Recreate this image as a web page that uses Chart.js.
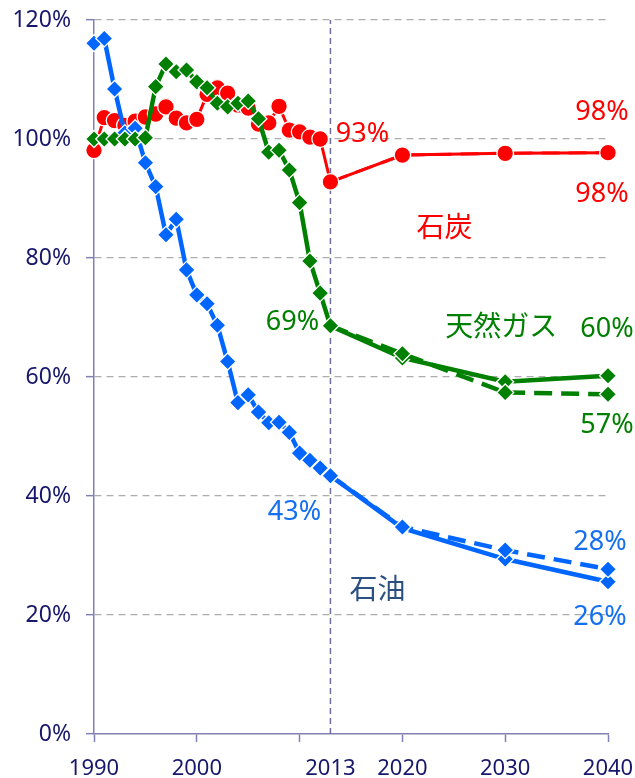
<!DOCTYPE html>
<html>
<head>
<meta charset="utf-8">
<script src="https://cdn.jsdelivr.net/npm/chart.js@4/dist/chart.umd.min.js"></script>
<style>
  html, body { margin: 0; padding: 0; background: #ffffff; }
  #wrap { width: 635px; height: 778px; }
</style>
</head>
<body>
<div id="wrap"><canvas id="chart" width="635" height="778"></canvas></div>
<script>
// Annual record, 1990-2013 (index: 1990 = 100%)
const historyYears = [1990, 1991, 1992, 1993, 1994, 1995, 1996, 1997, 1998, 1999, 2000, 2001,
                      2002, 2003, 2004, 2005, 2006, 2007, 2008, 2009, 2010, 2011, 2012, 2013];
const coalHistory = [98.1, 103.6, 103.1, 102.3, 103.0, 103.7, 104.2, 105.4, 103.5, 102.7, 103.3, 107.5,
                     108.6, 107.7, 105.7, 105.2, 102.5, 102.7, 105.5, 101.5, 101.2, 100.3, 100.0, 92.8];
const gasHistory  = [100.0, 100.0, 100.0, 100.0, 100.0, 100.2, 108.8, 112.6, 111.3, 111.6, 109.6, 108.6,
                     106.0, 105.4, 106.0, 106.4, 103.4, 97.8, 98.1, 94.8, 89.3, 79.5, 74.1, 68.6];
const oilHistory  = [116.1, 116.9, 108.4, 101.0, 101.8, 96.0, 92.0, 83.9, 86.5, 78.0, 73.8, 72.3,
                     68.7, 62.6, 55.7, 57.0, 54.1, 52.3, 52.4, 50.7, 47.2, 46.0, 44.7, 43.4];

// Outlook, 2013 onward: case A (solid) and case B (dashed)
const outlookYears = [2013, 2020, 2030, 2040];
const coalOutlookA = [92.8, 97.3, 97.6, 97.7];
const coalOutlookB = [92.8, 97.3, 97.6, 97.7];
const gasOutlookA  = [68.6, 63.2, 59.2, 60.2];
const gasOutlookB  = [68.6, 63.9, 57.4, 57.1];
const oilOutlookA  = [43.4, 34.6, 29.4, 25.6];
const oilOutlookB  = [43.4, 34.8, 30.9, 27.7];

// Axis ticks
const baseYear = 2013;
const xTickValues = [1990, 2000, 2010, 2013, 2020, 2030, 2040];
const xTickLabels = ['1990', '2000', '', '2013', '2020', '2030', '2040'];
const yTickValues = [0, 20, 40, 60, 80, 100, 120];

// Series names
const coalName = '石炭';
const gasName = '天然ガス';
const oilName = '石油';

const RED = '#FF0000';
const GREEN = '#008000';
const BLUE = '#0066FF';
const BLUE_TEXT = '#1470F0';
const OIL_NAME = '#2A5082';
const AXIS = '#8080B4';
const TICK_TEXT = '#17176B';
const GRID = '#ADADAD';

const pts = (xs, ys) => xs.map((x, i) => ({ x: x, y: ys[i] }));

function historySet(data, color, width, style, radius, order) {
  return {
    data: pts(historyYears, data),
    borderColor: color, backgroundColor: color, borderWidth: width,
    pointStyle: style, pointRadius: radius, pointHoverRadius: radius,
    pointBackgroundColor: color, pointBorderColor: '#ffffff', pointBorderWidth: 1.3,
    tension: 0, order: order, clip: false
  };
}
function outlookSet(data, color, width, style, radius, dashed, order) {
  return {
    data: pts(outlookYears, data),
    borderColor: color, backgroundColor: color, borderWidth: width,
    borderDash: dashed ? [18, 9] : [],
    pointStyle: style,
    pointRadius: (c) => c.dataIndex === 0 ? 0 : radius,
    pointHoverRadius: radius,
    pointBackgroundColor: color, pointBorderColor: '#ffffff', pointBorderWidth: 1.3,
    tension: 0, order: order, clip: false
  };
}

// Text annotations tied to data points (pixel offsets from the point)
const valueLabels = [
  { series: coalOutlookA, idx: 0, dx: 32, dy: -40, color: RED },
  { series: coalOutlookB, idx: 3, dx: -6, dy: -33, color: RED },
  { series: coalOutlookA, idx: 3, dx: -6, dy: 49, color: RED },
  { series: gasOutlookA, idx: 0, dx: -38, dy: 4, color: GREEN },
  { series: gasOutlookA, idx: 3, dx: -1, dy: -39, color: GREEN },
  { series: gasOutlookB, idx: 3, dx: -1, dy: 39, color: GREEN },
  { series: oilOutlookA, idx: 0, dx: -36, dy: 44, color: BLUE_TEXT },
  { series: oilOutlookB, idx: 3, dx: -8, dy: -19, color: BLUE_TEXT },
  { series: oilOutlookA, idx: 3, dx: -8, dy: 43, color: BLUE_TEXT }
];
const nameLabels = [
  { text: coalName, series: coalOutlookA, idx: 1, dx: 42, dy: 71, color: RED },
  { text: gasName, series: gasOutlookA, idx: 2, dx: -4, dy: -56, color: GREEN },
  { text: oilName, series: oilOutlookA, idx: 1, dx: -25, dy: 60, color: OIL_NAME }
];

const labelPlugin = {
  id: 'pointText',
  afterDatasetsDraw(chart) {
    const { ctx, scales: { x, y } } = chart;
    ctx.save();
    ctx.textAlign = 'center';
    ctx.textBaseline = 'alphabetic';
    ctx.font = '27px "Noto Sans", "DejaVu Sans", sans-serif';
    valueLabels.forEach(l => {
      const v = l.series[l.idx];
      const px = x.getPixelForValue(outlookYears[l.idx]) + l.dx;
      const py = y.getPixelForValue(v) + l.dy;
      ctx.fillStyle = l.color;
      ctx.fillText(Math.round(v) + '%', px, py);
    });
    ctx.textBaseline = 'middle';
    ctx.font = '28px "Noto Sans CJK JP", sans-serif';
    nameLabels.forEach(l => {
      const px = x.getPixelForValue(outlookYears[l.idx]) + l.dx;
      const py = y.getPixelForValue(l.series[l.idx]) + l.dy;
      ctx.fillStyle = l.color;
      ctx.fillText(l.text, px, py);
    });
    ctx.restore();
  }
};

const datasets = [
  // vertical marker at the base year
  {
    data: [{ x: baseYear, y: 0 }, { x: baseYear, y: 120 }],
    borderColor: '#6E6E9E', borderWidth: 1.5, borderDash: [6, 4],
    pointRadius: 0, pointHoverRadius: 0, order: 20
  },
  outlookSet(coalOutlookA, RED, 3, 'circle', 8.3, false, 13),
  outlookSet(coalOutlookB, RED, 3, 'circle', 8.3, true, 12),
  historySet(coalHistory, RED, 3, 'circle', 8.3, 11),
  outlookSet(oilOutlookA, BLUE, 4.5, 'rectRot', 8.5, false, 9),
  outlookSet(oilOutlookB, BLUE, 4.5, 'rectRot', 8.5, true, 8),
  historySet(oilHistory, BLUE, 4.5, 'rectRot', 8.5, 7),
  outlookSet(gasOutlookA, GREEN, 4.5, 'rectRot', 8.5, false, 5),
  outlookSet(gasOutlookB, GREEN, 4.5, 'rectRot', 8.5, true, 4),
  historySet(gasHistory, GREEN, 4.5, 'rectRot', 8.5, 3)
];

new Chart(document.getElementById('chart'), {
  type: 'line',
  data: { datasets: datasets },
  plugins: [labelPlugin],
  options: {
    responsive: false,
    animation: false,
    events: [],
    layout: { padding: { top: 20, right: 27, left: 0, bottom: 0 } },
    plugins: { legend: { display: false }, tooltip: { enabled: false } },
    scales: {
      x: {
        type: 'linear',
        min: 1990, max: 2040,
        afterBuildTicks: (s) => { s.ticks = xTickValues.map(v => ({ value: v })); },
        afterFit: (s) => { s.height = 44; s.paddingLeft = 0; s.paddingRight = 0; },
        ticks: {
          autoSkip: false, maxRotation: 0, minRotation: 0,
          color: TICK_TEXT, padding: 14,
          font: { family: '"Noto Sans", "DejaVu Sans", sans-serif', size: 22 },
          callback: (v) => { const i = xTickValues.indexOf(v); return i >= 0 ? xTickLabels[i] : ''; }
        },
        grid: {
          drawOnChartArea: false, drawTicks: true, tickLength: 8, tickWidth: 1.5,
          tickBorderDash: [],
          tickColor: (c) => (c.tick && c.tick.value === baseYear) ? 'rgba(0,0,0,0)' : AXIS
        },
        border: { display: true, color: AXIS, width: 1.5 }
      },
      y: {
        min: 0, max: 120,
        afterBuildTicks: (s) => { s.ticks = yTickValues.map(v => ({ value: v })); },
        afterFit: (s) => { s.width = 94; s.paddingTop = 0; s.paddingBottom = 0; },
        ticks: {
          color: TICK_TEXT, padding: 15,
          font: { family: '"Noto Sans", "DejaVu Sans", sans-serif', size: 23 },
          callback: (v) => v + '%'
        },
        grid: {
          drawOnChartArea: true, drawTicks: true, tickLength: 8, tickWidth: 1.5,
          tickBorderDash: [], tickColor: AXIS, lineWidth: 1.3,
          color: (c) => (c.tick && c.tick.value === 0) ? 'rgba(0,0,0,0)' : GRID
        },
        border: { display: true, color: AXIS, width: 1.5, dash: [7, 5] }
      }
    }
  }
});
</script>
</body>
</html>
